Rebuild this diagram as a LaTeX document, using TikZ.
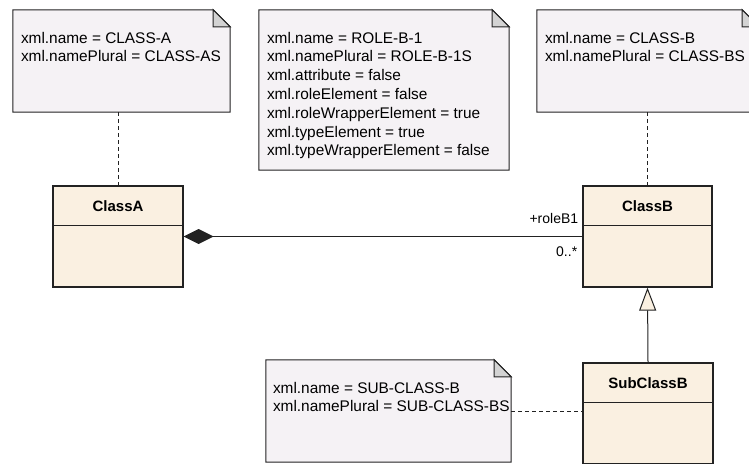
\documentclass[tikz,border=0pt]{standalone}
\usepackage{fontspec}
\setmainfont{Liberation Sans}
\usetikzlibrary{arrows.meta,positioning,calc}
\definecolor{NoteFill}{HTML}{F5F2F5}
\definecolor{FoldGray}{HTML}{D3D3D3}
\definecolor{ClassFill}{HTML}{FAF0E1}
\definecolor{EdgeDark}{HTML}{222222}

\begin{document}
\begin{tikzpicture}[x=1pt,y=-1pt,
  notebox/.style={inner sep=0pt},
  noteline/.style={draw=EdgeDark,line width=1pt,fill=NoteFill},
  notetext/.style={inner sep=0pt,anchor=north west,align=left,font=\fontsize{15.4}{18.8}\selectfont},
  classbox/.style={draw=EdgeDark,line width=1.2pt,fill=ClassFill,inner sep=0pt},
  classline/.style={draw=EdgeDark,line width=1.2pt},
  classname/.style={inner sep=0pt,font=\fontsize{15}{18}\selectfont\bfseries},
  endlabel/.style={inner sep=0pt,anchor=east,font=\fontsize{14}{16}\selectfont},
  noteanchor/.style={draw=EdgeDark,line width=0.9pt,dash pattern=on 4pt off 3pt},
  composition/.style={draw=EdgeDark,line width=1pt,{Diamond[length=30pt,width=15pt]}-},
  generalization/.style={draw=EdgeDark,line width=1pt,-{Triangle[length=23pt,width=17pt,fill=ClassFill]}}]
  \useasboundingbox (0,0) rectangle (749,463);
  \clip (0,0) rectangle (749,463);

  % notes (outline with folded corner drawn below)
  \node[notebox,minimum width=217pt,minimum height=102pt] (noteA) at (121.5,61) {};
  \node[notebox,minimum width=250pt,minimum height=160pt] (noteRole) at (384,90) {};
  \node[notebox,minimum width=222pt,minimum height=102pt] (noteB) at (648,61) {};
  \node[notebox,minimum width=245pt,minimum height=102pt] (noteSub) at (388.5,411) {};
  \foreach \n in {noteA,noteRole,noteB,noteSub}{
    \draw[noteline] (\n.south west) -- (\n.north west) -- ([xshift=-17pt]\n.north east)
      -- ([yshift=-17pt]\n.north east) -- (\n.south east) -- cycle;
    \draw[noteline,fill=FoldGray] ([xshift=-17pt]\n.north east) -- ([xshift=-17pt,yshift=-17pt]\n.north east)
      -- ([yshift=-17pt]\n.north east) -- cycle;
  }
  \node[notetext] (noteA-text) at ([xshift=8pt,yshift=-22pt]noteA.north west)
    {xml.name = CLASS-A\\xml.namePlural = CLASS-AS};
  \node[notetext] (noteRole-text) at ([xshift=8pt,yshift=-22pt]noteRole.north west)
    {xml.name = ROLE-B-1\\xml.namePlural = ROLE-B-1S\\xml.attribute = false\\xml.roleElement = false\\xml.roleWrapperElement = true\\xml.typeElement = true\\xml.typeWrapperElement = false};
  \node[notetext] (noteB-text) at ([xshift=8pt,yshift=-22pt]noteB.north west)
    {xml.name = CLASS-B\\xml.namePlural = CLASS-BS};
  \node[notetext] (noteSub-text) at ([xshift=7pt,yshift=-22pt]noteSub.north west)
    {xml.name = SUB-CLASS-B\\xml.namePlural = SUB-CLASS-BS};

  % classes
  \node[classbox,minimum width=130pt,minimum height=101pt] (classA) at (118,236.5) {};
  \node[classbox,minimum width=129pt,minimum height=101pt] (classB) at (647.5,236.5) {};
  \node[classbox,minimum width=130pt,minimum height=101pt] (subB) at (648,413.5) {};
  \foreach \c/\t in {classA/ClassA,classB/ClassB,subB/SubClassB}{
    \draw[classline] ([yshift=-40pt]\c.north west) -- ([yshift=-40pt]\c.north east);
    \node[classname] (\c-name) at ([yshift=-21pt]\c.north) {\t};
  }

  % relations
  \draw[composition] (classA.east) -- (classB.west);
  \node[endlabel] (roleB1) at ([xshift=-4pt,yshift=18.5pt]classB.west) {+roleB1};
  \node[endlabel] (multB1) at ([xshift=-5pt,yshift=-15.5pt]classB.west) {0..*};
  \draw[generalization] (subB.north) -- (classB.south);

  % note anchors
  \draw[noteanchor] (noteA.south -| classA.north) -- (classA.north);
  \draw[noteanchor] (noteB.south -| classB.north) -- (classB.north);
  \draw[noteanchor] (noteSub.east) -- (noteSub.east -| subB.west);
\end{tikzpicture}
\end{document}
